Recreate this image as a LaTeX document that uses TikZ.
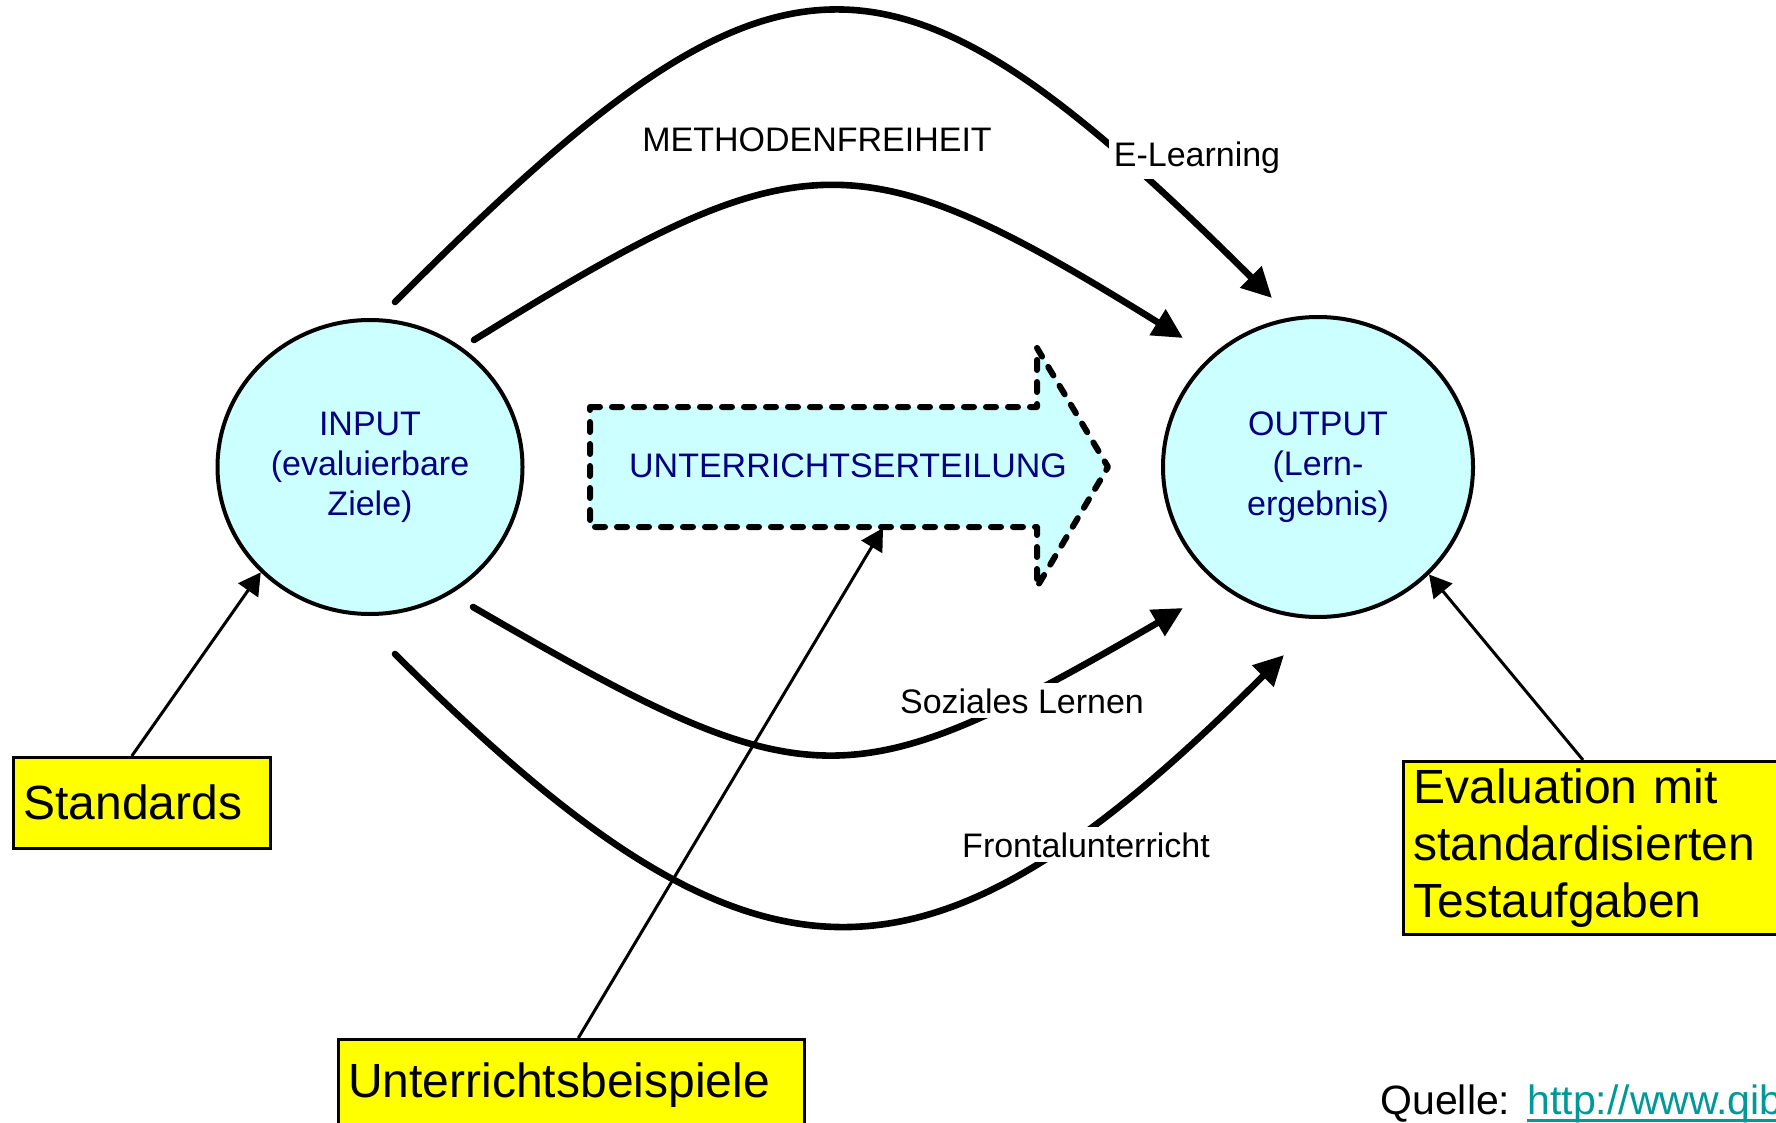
\documentclass[tikz,border=0pt]{standalone}
\usepackage{fontspec}
\setmainfont{Liberation Sans}
\usetikzlibrary{arrows.meta,calc,shapes.geometric}
\definecolor{navy}{RGB}{0,0,128}
\definecolor{lcyan}{RGB}{204,255,255}
\definecolor{linkteal}{RGB}{0,153,153}
\definecolor{byellow}{RGB}{255,255,0}
\begin{document}
\begin{tikzpicture}[x=0.5pt,y=-0.5pt,
  bigcirc/.style={draw=black, line width=2pt, fill=lcyan, ellipse, inner sep=0pt, text=navy, align=center, font=\fontsize{17}{20}\selectfont},
  thickarr/.style={line width=3.3pt, line cap=round, -{Triangle[length=15pt,width=14.5pt]}},
  thinarr/.style={line width=1.5pt, -{Triangle[length=11pt,width=12pt]}},
  lbl/.style={fill=white, inner sep=2.5pt, anchor=base, font=\fontsize{17}{20}\selectfont},
  ybox/.style={draw=black, line width=1.3pt, fill=byellow, rectangle, inner xsep=5pt, inner ysep=0pt, anchor=north west, align=left, font=\fontsize{24}{28.5}\selectfont},
  dasharrow/.style={draw=black, fill=lcyan, line width=3pt, line cap=round, line join=round, dash pattern=on 5pt off 6pt}
]
\useasboundingbox (0,0) rectangle (1776,1123);
\clip (0,0) rectangle (1776,1123);
\fill[white] (0,0) rectangle (1776,1123);

% circles
\node[bigcirc, minimum width=152.5pt, minimum height=147pt] (input) at (370,467) {INPUT\\(evaluierbare\\Ziele)};
\node[bigcirc, minimum width=155pt, minimum height=150pt] (output) at (1318,467) {OUTPUT\\(Lern-\\ergebnis)};

% big dashed arrow
\coordinate (ua1) at (590,407);
\coordinate (ua2) at (1037,407);
\coordinate (ua3) at (1037,348);
\coordinate (ua4) at (1108,467);
\coordinate (ua5) at (1037,587);
\coordinate (ua6) at (1037,527);
\coordinate (ua7) at (590,527);
\path[dasharrow] (ua1) -- (ua2) -- (ua3) -- (ua4) -- (ua5) -- (ua6) -- (ua7) -- cycle;
\node[anchor=base, inner sep=0pt, text=navy, font=\fontsize{17}{20}\selectfont] (ute) at (848,477) {UNTERRICHTSERTEILUNG};
\coordinate (ubtip) at (883,528);

% thick curves
\coordinate (c1s) at (395,302); \coordinate (c1e) at (1272,298);
\coordinate (c2s) at (474,340); \coordinate (c2e) at (1183,338);
\coordinate (c3s) at (473,607); \coordinate (c3e) at (1183,608);
\coordinate (c4s) at (395,654); \coordinate (c4e) at (1284,655);
\draw[thickarr] (c1s) .. controls (779,-84) and (888,-84) .. (c1e);
\draw[thickarr] (c2s) .. controls (801,137) and (856,135) .. (c2e);
\draw[thickarr] (c3s) .. controls (809,802) and (847,803) .. (c3e);
\draw[thickarr] (c4s) .. controls (755,1014) and (924,1015) .. (c4e);

% labels
\node[anchor=base, inner sep=0pt, font=\fontsize{17}{20}\selectfont] (meth) at (817,152) {METHODENFREIHEIT};
\node[lbl] (elearn) at (1197,167) {E-Learning};
\node[lbl] (sozial) at (1022,713) {Soziales Lernen};
\node[lbl] (frontal) at (1086,857) {Frontalunterricht};

% yellow boxes
\node[ybox, text width=118.5pt, minimum height=45.5pt] (std) at (12,756) {Standards};
\node[ybox, text width=223pt, minimum height=45.5pt] (ub) at (337,1038) {Unterrichtsbeispiele};
\node[ybox, text width=190pt, minimum height=86.5pt] (ev) at (1402,760) {Evaluation mit\\standardisierten\\Testaufgaben};

% thin arrows
\draw[thinarr] ([xshift=-5pt]std.north) -- (input.south west);
\draw[thinarr] ([xshift=3.5pt]ub.north) -- (ubtip);
\draw[thinarr] ([xshift=90.5pt]ev.north west) -- (output.south east);

% source
\node[anchor=base west, inner sep=0pt, font=\fontsize{20.5}{24}\selectfont] (quelle) at (1380,1114) {Quelle:};
\node[anchor=base west, inner sep=0pt, text=linkteal, font=\fontsize{20.5}{24}\selectfont] (link) at (1527,1114) {http://www.qib};
\draw[linkteal, line width=1.5pt] ([yshift=-3pt]link.base west) -- ([yshift=-3pt]link.base east);
\end{tikzpicture}
\end{document}
